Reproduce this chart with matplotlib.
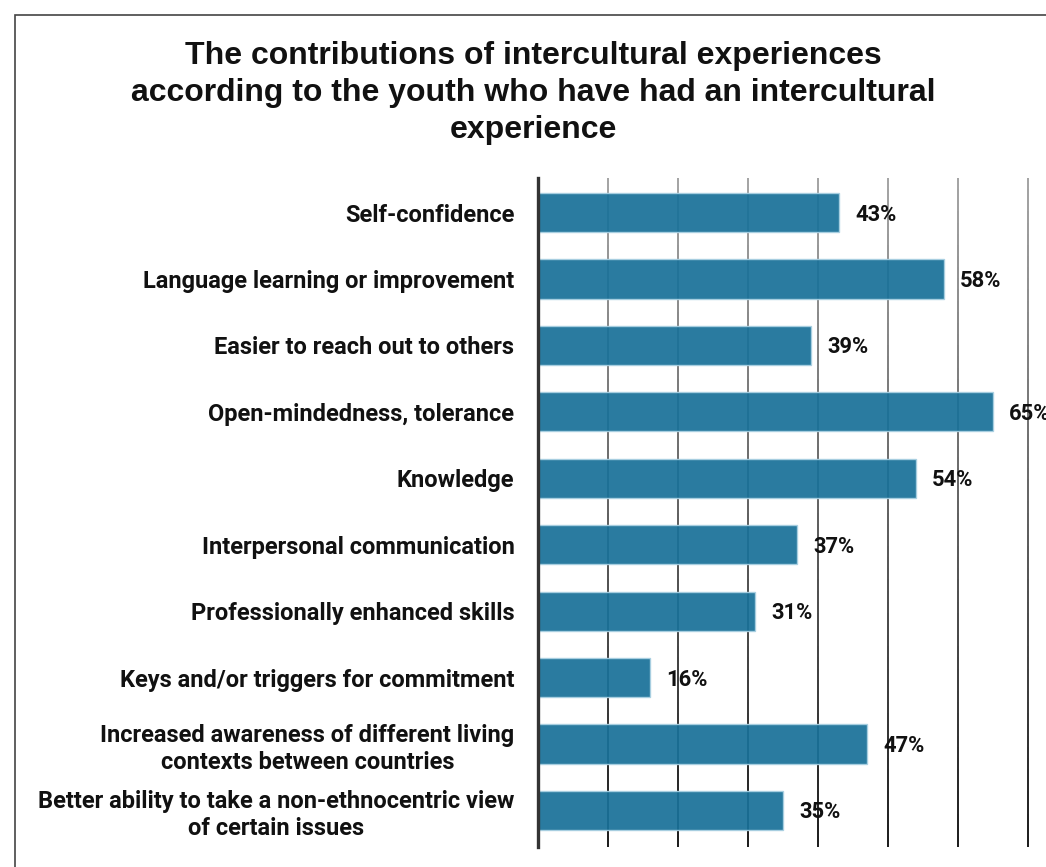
import numpy as np
import matplotlib.pyplot as plt
from matplotlib.collections import LineCollection
from matplotlib.patches import Rectangle

categories = [
    'Self-confidence',
    'Language learning or improvement',
    'Easier to reach out to others',
    'Open-mindedness, tolerance',
    'Knowledge',
    'Interpersonal communication',
    'Professionally enhanced skills',
    'Keys and/or triggers for commitment',
    'Increased awareness of different living\ncontexts between countries',
    'Better ability to take a non-ethnocentric view\nof certain issues',
]
values = [43, 58, 39, 65, 54, 37, 31, 16, 47, 35]
grid_ticks = [10, 20, 30, 40, 50, 60, 70]

title = ('The contributions of intercultural experiences\n'
         'according to the youth who have had an intercultural\n'
         'experience')

W, H = 1046, 867
fig = plt.figure(figsize=(W/100, H/100), dpi=100)

# outer frame (only top and left edges visible in the crop)
fig.patches.append(Rectangle((15/W, -0.1), 1.2, (H-15)/H + 0.1, transform=fig.transFigure,
                             fill=False, edgecolor='#444444', linewidth=1.2))

ax = fig.add_axes([538/W, 20/H, 504/W, 669/H])
ax.set_xlim(0, 72)
ax.set_ylim(9.55, -0.52)

# gridlines fading from gray (top) to near black (bottom)
n = 60
ys = np.linspace(-0.52, 9.55, n + 1)
shade = np.linspace(0.64, 0.1, n)
for gx in grid_ticks:
    segs = [[(gx, ys[i]), (gx, ys[i+1])] for i in range(n)]
    lc = LineCollection(segs, colors=[(s, s, s) for s in shade], linewidths=1.4, zorder=1)
    ax.add_collection(lc)

y = np.arange(len(categories))
ax.barh(y, values, height=0.59, color=(25/255, 113/255, 153/255), alpha=0.93,
        edgecolor='#a9d0e2', linewidth=1.0, zorder=2)

for yi, v in zip(y, values):
    ax.text(v + 2.3, yi + 0.03, f'{v}%', va='center', ha='left', fontsize=15.8,
            fontweight='bold', family='Roboto', color='#111111', clip_on=False, zorder=3)

ax.set_yticks(y)
ax.set_yticklabels(categories, fontsize=17, fontweight='bold', family='Roboto',
                   color='#111111', ha='right', multialignment='center', linespacing=1.25)
ax.tick_params(axis='y', length=0, pad=17)
ax.set_xticks([])

for s in ['top', 'right', 'bottom']:
    ax.spines[s].set_visible(False)
ax.spines['left'].set_color('#333333')
ax.spines['left'].set_linewidth(2.4)
ax.spines['left'].set_zorder(4)

fig.text(533/W, 1 - 41/H, title, ha='center', va='top', fontsize=23,
         fontweight='bold', family='Liberation Sans', color='#111111', linespacing=1.3)

fig.savefig('out.png', dpi=100)
